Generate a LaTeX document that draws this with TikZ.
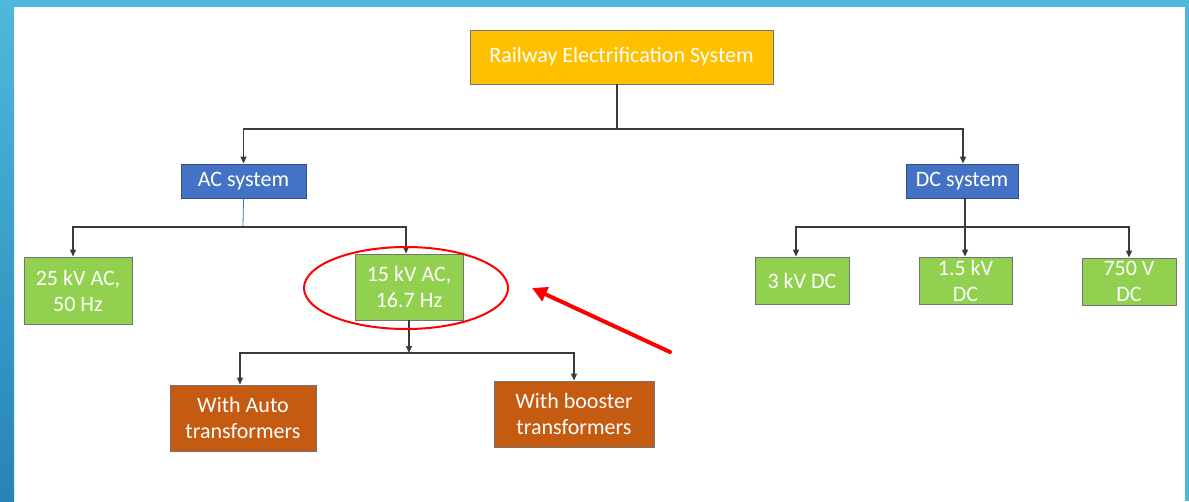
\documentclass[tikz,border=0pt]{standalone}
\usepackage{fontspec}
\setmainfont{Carlito}
\usetikzlibrary{arrows.meta}
\definecolor{railgold}{HTML}{FFC000}
\definecolor{railblue}{HTML}{4472C4}
\definecolor{railgreen}{HTML}{92D050}
\definecolor{railrust}{HTML}{C55A11}
\definecolor{wireGray}{HTML}{3A3A3A}
\definecolor{frameTop}{HTML}{50B8DC}
\definecolor{frameLow}{HTML}{2585B6}
\begin{document}
\begin{tikzpicture}[x=1pt,y=-1pt,
    box/.style={draw=black!55,line width=0.9pt,inner sep=0pt,text=white,align=center,
                font=\fontsize{22}{26}\selectfont},
    goldbox/.style={box,fill=railgold},
    bluebox/.style={box,fill=railblue,draw=railblue!70!black},
    greenbox/.style={box,fill=railgreen},
    rustbox/.style={box,fill=railrust},
    wire/.style={draw=wireGray,line width=1.2pt,>={Triangle[length=7pt,width=6pt]}}]
        % slide frame
        \fill[white] (0,0) rectangle (1189,501);
        \fill[top color=frameTop,bottom color=frameLow] (0,0) rectangle (14,501);
        \fill[frameTop] (0,0) rectangle (1189,7);
        \fill[frameTop] (1185,0) rectangle (1189,501);
        % root
        \node[goldbox,minimum width=303pt,minimum height=54pt] (root) at (621.5,57) {Railway Electrification System};
        % ac and dc branches
        \node[bluebox,minimum width=125pt,minimum height=34pt] (ac) at (243.5,181) {AC system};
        \node[bluebox,minimum width=112pt,minimum height=34pt] (dc) at (962,181) {DC system};
        % ac systems
        \node[greenbox,minimum width=108pt,minimum height=67pt] (ac25) at (78,290.5) {25 kV AC,\\50 Hz};
        \node[greenbox,minimum width=108pt,minimum height=66pt] (ac15) at (409,287) {15 kV AC,\\16.7 Hz};
        \node[rustbox,minimum width=146pt,minimum height=66pt] (auto) at (243,418) {With Auto\\transformers};
        \node[rustbox,minimum width=160pt,minimum height=66pt] (boost) at (574,414) {With booster\\transformers};
        % dc systems
        \node[greenbox,minimum width=94pt,minimum height=47pt] (dc3) at (802,280.5) {3 kV DC};
        \node[greenbox,minimum width=93pt,minimum height=47pt] (dc15) at (965.5,280.5) {1.5 kV\\DC};
        \node[greenbox,minimum width=94pt,minimum height=47pt] (dc750) at (1129,281.5) {750 V\\DC};
        % junctions
        \coordinate (jroot) at (617,129);
        \coordinate (jac) at (243,227);
        \coordinate (j15) at (409,353);
        \coordinate (jdc) at (965,227);
        % connectors
        \draw[wire] (jroot |- root.south) -- (jroot);
        \draw[wire,<->] (ac.north) |- (jroot) -| ([xshift=1pt]dc.north);
        \draw[railblue,line width=0.8pt] (ac.south) -- (jac);
        \draw[wire,<->] ([xshift=-5pt]ac25.north) |- (jac) -| ([xshift=-3pt]ac15.north);
        \draw[wire,->] (ac15.south) -- (j15);
        \draw[wire,<->] ([xshift=-3pt]auto.north) |- (j15) -| (boost.north);
        \draw[wire,->] (jdc |- dc.south) -- (jdc |- dc15.north);
        \draw[wire,<->] ([xshift=-6pt]dc3.north) |- (jdc) -| (dc750.north);
        % highlight
        \draw[red,line width=2pt] (406,288) ellipse [x radius=102, y radius=41];
        \coordinate (pointer tail) at (670,352);
        \coordinate (pointer tip) at (532,288);
        \draw[red,line width=4pt,line cap=round,-{Triangle[length=15pt,width=15pt]}] (pointer tail) -- (pointer tip);
\end{tikzpicture}
\end{document}
